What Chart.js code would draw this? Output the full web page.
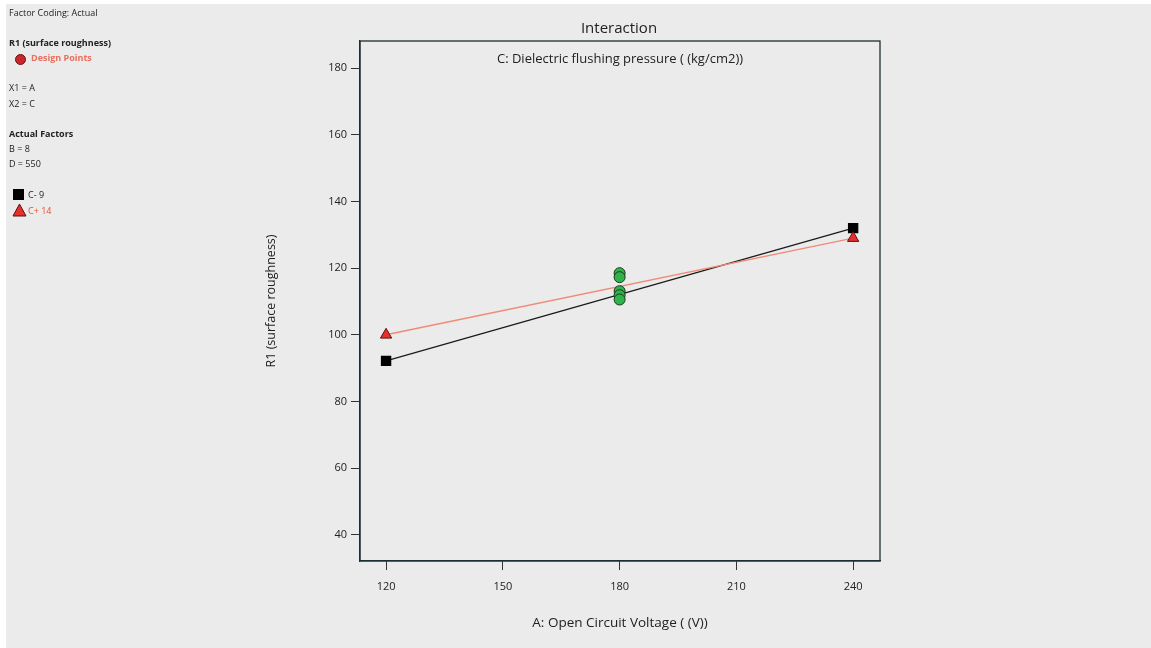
<!DOCTYPE html>
<html><head><meta charset="utf-8">
<script src="https://cdn.jsdelivr.net/npm/chart.js@4.4.1/dist/chart.umd.min.js"></script>
<style>
html,body{margin:0;padding:0;background:#fff;width:1151px;height:648px;overflow:hidden;font-family:"Open Sans",sans-serif;}
#bg{position:absolute;left:6px;top:4px;width:1145px;height:644px;background:#ebebeb;}
#c{position:absolute;left:0;top:0;}
.t{position:absolute;font-size:9px;color:#222;white-space:nowrap;line-height:10px;}
.b{font-weight:bold;}
</style></head><body>
<div id="bg"><canvas id="c" width="1145" height="644"></canvas></div>
<div class="t" style="left:9px;top:8px">Factor Coding: Actual</div>
<div class="t b" style="left:9px;top:38px">R1 (surface roughness)</div>
<div style="position:absolute;left:15px;top:54px;width:9px;height:9px;border-radius:50%;background:#c8282a;border:1px solid #6a1010"></div>
<div class="t b" style="left:31px;top:53px;color:#e8705e">Design Points</div>
<div class="t" style="left:9px;top:83px">X1 = A</div>
<div class="t" style="left:9px;top:99px">X2 = C</div>
<div class="t b" style="left:9px;top:129px">Actual Factors</div>
<div class="t" style="left:9px;top:144px">B = 8</div>
<div class="t" style="left:9px;top:159px">D = 550</div>
<div style="position:absolute;left:13px;top:189px;width:11px;height:11px;background:#000"></div>
<div class="t" style="left:28px;top:190px">C- 9</div>
<svg style="position:absolute;left:12px;top:203px" width="15" height="14"><polygon points="7.5,1 14,13 1,13" fill="#e8302a" stroke="#5a1010" stroke-width="1"/></svg>
<div class="t" style="left:28px;top:206px;color:#e8502e">C+ 14</div>
<script>
const xTicks=[120,150,180,210,240];
const yTicks=[40,60,80,100,120,140,160,180];
const voltage=[120,240];
const cMinus=[92.2,132.0];
const cPlus=[100.0,129.0];
const designX=[180,180,180,180,180];
const designY=[118.5,117.3,113.1,111.9,110.6];

const frame={id:'frame',
  afterDatasetsDraw(ch){
    const a=ch.chartArea,c=ch.ctx;
    c.save();c.strokeStyle='#1e2e33';c.lineWidth=1.3;
    c.strokeRect(a.left,a.top,a.right-a.left,a.bottom-a.top);
    c.restore();
  },
  afterDraw(ch){
    const a=ch.chartArea,c=ch.ctx;const cx=(a.left+a.right)/2;
    c.save();c.fillStyle='#222';c.textAlign='center';c.textBaseline='middle';
    c.font='15px "Open Sans"';c.fillText('Interaction',cx-1,25);
    c.font='13px "Open Sans"';c.fillText('C: Dielectric flushing pressure ( (kg/cm2))',cx,a.top+18);
    c.restore();
  }};

new Chart(document.getElementById('c'),{
  type:'scatter',
  data:{datasets:[
    {label:'C- 9',data:voltage.map((x,i)=>({x,y:cMinus[i]})),showLine:true,borderColor:'#1a1a1a',borderWidth:1.2,
     pointStyle:'rect',pointRadius:6.5,pointBackgroundColor:'#000',pointBorderColor:'#000',order:2},
    {label:'C+ 14',data:voltage.map((x,i)=>({x,y:cPlus[i]})),showLine:true,borderColor:'#f08a78',borderWidth:1.5,
     pointStyle:'triangle',pointRadius:6.5,pointBackgroundColor:'#e8302a',pointBorderColor:'#5a1010',pointBorderWidth:1,order:1},
    {label:'Design Points',data:designX.map((x,i)=>({x,y:designY[i]})),pointStyle:'circle',pointRadius:5.5,
     pointBackgroundColor:'#2fb34a',pointBorderColor:'#1a3a1a',pointBorderWidth:1,order:0}
  ]},
  options:{responsive:false,animation:false,
    layout:{padding:{left:254,right:271,top:37,bottom:13}},
    plugins:{legend:{display:false},tooltip:{enabled:false},title:{display:false}},
    scales:{
      x:{type:'linear',min:113.3,max:246.9,
        afterBuildTicks(s){s.ticks=xTicks.map(v=>({value:v}));},
        afterFit(s){s.height=74;},
        grid:{drawOnChartArea:false,drawTicks:true,tickLength:9,color:'#333',tickWidth:1},
        border:{display:true,color:'#1e2e33',width:1.3},
        ticks:{padding:10,color:'#222',font:{family:'Open Sans',size:11}},
        title:{display:true,text:'A: Open Circuit Voltage ( (V))',color:'#222',font:{family:'Open Sans',size:13.5},padding:{top:4,bottom:4}}},
      y:{type:'linear',min:32.2,max:188.1,
        afterBuildTicks(s){s.ticks=yTicks.map(v=>({value:v}));},
        afterFit(s){s.width=100;},
        grid:{drawOnChartArea:false,drawTicks:true,tickLength:9,color:'#333',tickWidth:1},
        border:{display:true,color:'#1e2e33',width:1.3},
        ticks:{padding:4,color:'#222',font:{family:'Open Sans',size:11}},
        title:{display:true,text:'R1 (surface roughness)',color:'#222',font:{family:'Open Sans',size:12.5},padding:{top:4,bottom:4}}}
    }},
  plugins:[frame]
});
</script></body></html>
